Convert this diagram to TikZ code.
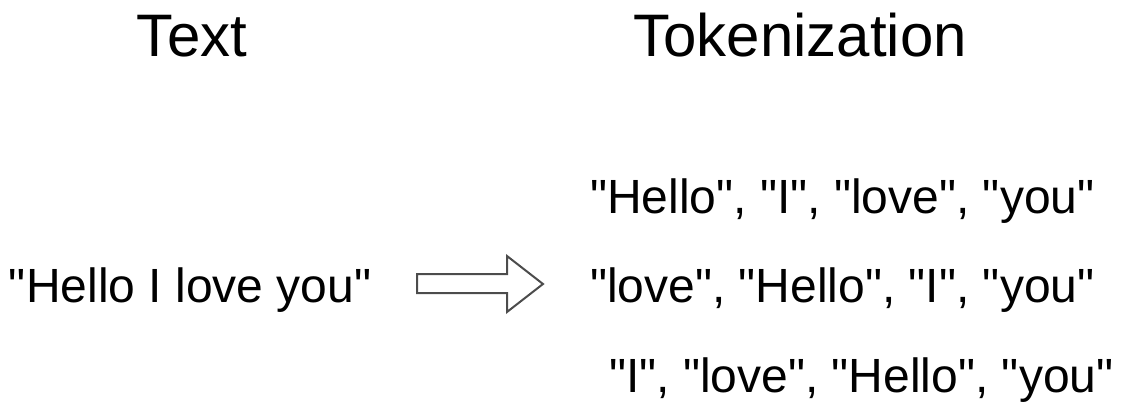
\documentclass[tikz,border=0pt]{standalone}
\usepackage{fontspec}
\setmainfont{Liberation Sans}[Ligatures=TeXReset]
\usepackage{tikz}
\usetikzlibrary{positioning}

\begin{document}
\begin{tikzpicture}[
  x=1pt, y=-1pt,
  every node/.style={inner sep=0pt, outer sep=0pt},
  title/.style={anchor=base, font=\fontsize{60}{72}\selectfont},
  word/.style={anchor=base west, font=\fontsize{48}{58}\selectfont},
  blockarr/.style={draw=black!70, line width=2pt, line join=miter},
]
\useasboundingbox (0,0) rectangle (1124,412);

%% HEADINGS
\node[title] (texthead) at (192,57)  {Text};
\node[title] (tokhead)  at (800,57)  {Tokenization};

%% INPUT SENTENCE
\node[word] (input) at (9,302) {"Hello I love you"};

%% TOKEN ORDERINGS
\node[word] (tokA) at (590,213) {"Hello", "I", "love", "you"};
\node[word] (tokB) at (590,302) {"love", "Hello", "I", "you"};
\node[word] (tokC) at (609,392) {"I", "love", "Hello", "you"};

%% Hollow block arrow between input and tokens
\draw[blockarr]
  (417,274) -- (507,274) -- (507,256) -- (543,284)
  -- (507,312) -- (507,293) -- (417,293) -- cycle;

\end{tikzpicture}
\end{document}
